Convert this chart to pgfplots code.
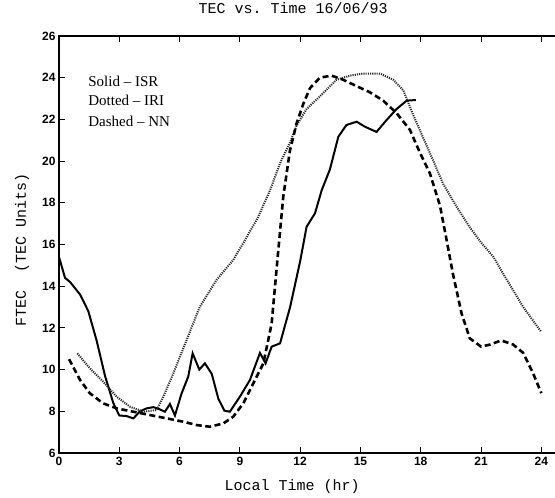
\documentclass[border=0pt]{standalone}
\usepackage{fontspec}
\setmainfont{Liberation Serif}
\setsansfont{Liberation Sans}
\setmonofont{Liberation Mono}
\usepackage{pgfplots}
\pgfplotsset{compat=1.18}
\begin{document}
\begin{tikzpicture}
\begin{axis}[
  scale only axis,
  width=497pt, height=417pt,
  xmin=0, xmax=24.73, ymin=6, ymax=26,
  xtick={0,3,...,24}, ytick={6,8,...,26},
  ytick pos=left,
  tick align=inside,
  major tick length=6pt,
  axis line style={line width=1.2pt},
  tick style={line width=1pt, black},
  /pgf/number format/assume math mode=true,
  tick label style={font=\sffamily\bfseries\fontsize{12}{12}\selectfont},
  xticklabel style={yshift=-1pt},
  title={TEC vs. Time 16/06/93},
  title style={font=\ttfamily\fontsize{15}{15}\selectfont, at={(axis description cs:0.471,1.0528)}, anchor=center},
  xlabel={Local Time (hr)},
  ylabel={FTEC\ \ (TEC Units)},
  label style={font=\ttfamily\fontsize{15}{15}\selectfont},
  xlabel style={at={(axis description cs:0.469,-0.0815)}, anchor=center},
  ylabel style={at={(axis description cs:-0.0744,0.488)}, anchor=center},
]
\addplot[black, line width=2pt] coordinates {
(0,15.4) (0.3,14.4) (0.55,14.2) (1.05,13.6) (1.46,12.8) (1.87,11.4) (2.29,9.7) (2.7,8.4) (3.0,7.8) (3.37,7.77) (3.7,7.66) (4.03,8.0) (4.36,8.14) (4.7,8.2) (5.0,8.1) (5.27,7.98) (5.52,8.35) (5.77,7.8) (6.1,8.86) (6.43,9.66) (6.65,10.78) (6.98,10.0) (7.26,10.3) (7.6,9.8) (7.93,8.6) (8.23,8.03) (8.5,7.98) (9.0,8.7) (9.5,9.5) (10.0,10.8) (10.28,10.3) (10.58,11.1) (11.0,11.26) (11.5,13.0) (12.0,15.2) (12.32,16.85) (12.74,17.5) (13.07,18.6) (13.48,19.6) (13.9,21.17) (14.3,21.73) (14.81,21.89) (15.22,21.65) (15.8,21.4) (16.3,21.97) (16.8,22.5) (17.3,22.9) (17.76,22.93)
};
\addplot[black!85, line width=2pt, dash pattern=on 1.1pt off 1.1pt] coordinates {
(0.91,10.78) (1.54,10.06) (2.2,9.42) (2.87,8.7) (3.53,8.22) (4.2,7.98) (4.86,8.06) (5.19,8.7) (5.69,9.82) (6.35,11.42) (7.0,13.0) (7.84,14.3) (8.67,15.26) (9.25,16.2) (9.9,17.3) (10.5,18.6) (11.0,19.9) (11.5,20.9) (11.82,21.7) (12.32,22.5) (12.98,23.1) (13.81,23.9) (14.48,24.1) (15.14,24.2) (15.97,24.2) (16.63,23.9) (17.13,23.4) (17.63,22.2) (18.13,21.1) (18.63,20.0) (19.12,18.9) (19.79,17.8) (20.46,16.8) (21.0,16.1) (21.62,15.4) (22.1,14.6) (23.1,13.0) (24.0,11.8)
};
\addplot[black, line width=2.6pt, dash pattern=on 6pt off 3.5pt] coordinates {
(0.5,10.5) (1.05,9.5) (1.54,8.86) (2.2,8.38) (2.87,8.14) (3.7,7.98) (4.53,7.82) (5.36,7.66) (6.19,7.5) (6.85,7.34) (7.51,7.26) (8.18,7.42) (8.67,7.74) (9.17,8.38) (9.67,9.34) (10.17,10.3) (10.58,12.2) (10.9,15.6) (11.16,18.3) (11.49,20.5) (11.82,21.8) (12.16,22.76) (12.49,23.5) (12.98,24.0) (13.56,24.1) (14.14,23.9) (14.8,23.6) (15.47,23.3) (16.13,22.9) (16.8,22.3) (17.46,21.5) (17.96,20.4) (18.46,19.4) (18.96,17.85) (19.29,16.2) (19.6,14.6) (20.03,12.7) (20.44,11.5) (21.0,11.1) (21.45,11.2) (22.0,11.4) (22.6,11.2) (23.1,10.8) (23.6,9.8) (24.0,8.87)
};
\node[anchor=west, inner sep=0pt, font=\fontsize{15}{15}\selectfont] at (axis cs:1.45,23.84) {Solid \textendash{} ISR};
\node[anchor=west, inner sep=0pt, font=\fontsize{15}{15}\selectfont] at (axis cs:1.45,22.9) {Dotted \textendash{} IRI};
\node[anchor=west, inner sep=0pt, font=\fontsize{15}{15}\selectfont] at (axis cs:1.45,21.9) {Dashed \textendash{} NN};
\end{axis}
\pgfresetboundingbox
\path[use as bounding box] ([xshift=-59pt,yshift=-45pt]current axis.south west) rectangle ([xshift=-1pt,yshift=36pt]current axis.north east);
\end{tikzpicture}
\end{document}
